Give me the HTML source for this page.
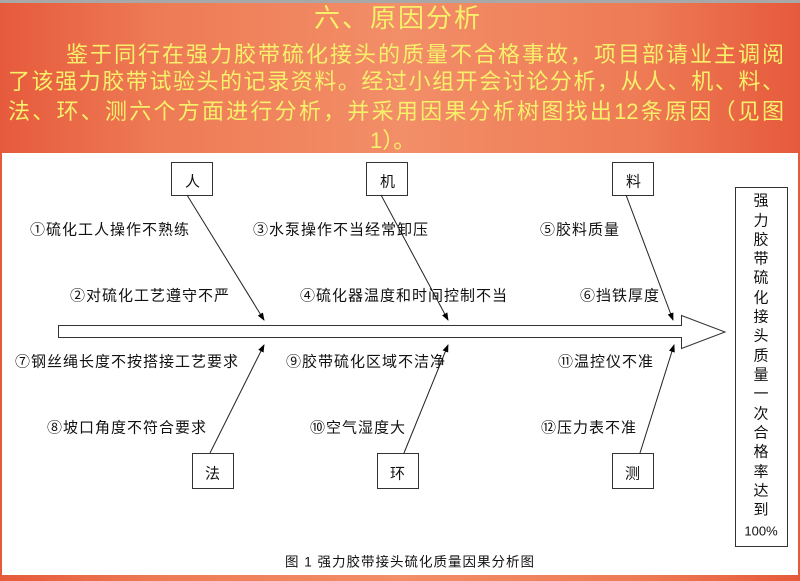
<!DOCTYPE html>
<html><head><meta charset="utf-8">
<style>
html,body{margin:0;padding:0}
body{width:800px;height:581px;position:relative;overflow:hidden;font-family:"Liberation Sans","Noto Sans CJK SC",sans-serif;
background:linear-gradient(90deg,#e65a3c 0%,#ee7b55 20%,#f28e68 50%,#ee7b55 80%,#e65a3c 100%);}
.top{position:absolute;left:0;top:0;width:800px;height:3px;background:#a8a8a8}
.t{position:absolute;color:#f7f06a;white-space:nowrap;font-size:22px;line-height:28px;overflow:hidden}
.j{text-align:justify;text-align-last:justify;white-space:normal;word-break:break-all;height:28px}
.white{position:absolute;left:2px;top:153px;width:796px;height:422px;background:#fff}
svg{position:absolute;left:0;top:0}
svg text{font-family:"Liberation Sans","Noto Sans CJK SC",sans-serif;fill:#111}
</style></head><body>
<div class="top"></div>
<div class="t" style="left:314px;top:4px;font-size:26px;letter-spacing:2px;">六、原因分析</div>
<div class="t j" style="left:66px;top:41px;width:718px;">鉴于同行在强力胶带硫化接头的质量不合格事故，项目部请业主调阅</div>
<div class="t j" style="left:8px;top:68px;width:776px;">了该强力胶带试验头的记录资料。经过小组开会讨论分析，从人、机、料、</div>
<div class="t j" style="left:8px;top:98px;width:776px;">法、环、测六个方面进行分析，并采用因果分析树图找出12条原因（见图</div>
<div class="t" style="left:370px;top:127px;">1）。</div>
<div class="white"></div>
<svg width="800" height="581" viewBox="0 0 800 581">
<defs><marker id="a" markerWidth="8" markerHeight="8" refX="7" refY="4" orient="auto" markerUnits="userSpaceOnUse"><path d="M0,1 L8,4 L0,7 Z" fill="#000"/></marker></defs>
<g fill="#fff" stroke="#333" stroke-width="1">
<rect x="171.5" y="162.5" width="41" height="33"/>
<rect x="366.5" y="162.5" width="41" height="33"/>
<rect x="612.5" y="162.5" width="41" height="33"/>
<rect x="192.5" y="453.5" width="41" height="35"/>
<rect x="377.5" y="453.5" width="41" height="35"/>
<rect x="612.5" y="453.5" width="41" height="35"/>
<rect x="735.5" y="187.5" width="52" height="359"/>
<path d="M58.5,325.5 L681.5,325.5 L681.5,315.5 L725,332 L681.5,348.5 L681.5,337.5 L58.5,337.5 Z"/>
</g>
<g stroke="#222" stroke-width="1" marker-end="url(#a)">
<line x1="187" y1="195" x2="264" y2="320"/>
<line x1="381" y1="195" x2="448" y2="320"/>
<line x1="626" y1="195" x2="673" y2="320"/>
<line x1="210" y1="453" x2="264" y2="345"/>
<line x1="404" y1="453" x2="448" y2="345"/>
<line x1="640" y1="453" x2="674" y2="345"/>
</g>
<g font-size="15" letter-spacing="1" dominant-baseline="central">
<text x="185" y="182">人</text><text x="380" y="182">机</text><text x="626" y="182">料</text>
<text x="205" y="474">法</text><text x="390" y="474">环</text><text x="625" y="474">测</text>
<text x="30" y="230">①硫化工人操作不熟练</text>
<text x="70" y="296">②对硫化工艺遵守不严</text>
<text x="253" y="230">③水泵操作不当经常卸压</text>
<text x="300" y="296">④硫化器温度和时间控制不当</text>
<text x="540" y="230">⑤胶料质量</text>
<text x="580" y="296">⑥挡铁厚度</text>
<text x="15" y="362">⑦钢丝绳长度不按搭接工艺要求</text>
<text x="286" y="362">⑨胶带硫化区域不洁净</text>
<text x="558" y="362">⑪温控仪不准</text>
<text x="47" y="428">⑧坡口角度不符合要求</text>
<text x="310" y="428">⑩空气湿度大</text>
<text x="541" y="428">⑫压力表不准</text>
</g>
<g font-size="15" text-anchor="middle" dominant-baseline="central">
<text x="761" y="201">强</text><text x="761" y="221">力</text><text x="761" y="240">胶</text><text x="761" y="259">带</text>
<text x="761" y="278">硫</text><text x="761" y="298">化</text><text x="761" y="317">接</text><text x="761" y="336">头</text>
<text x="761" y="356">质</text><text x="761" y="375">量</text><text x="761" y="394">一</text><text x="761" y="414">次</text>
<text x="761" y="433">合</text><text x="761" y="452">格</text><text x="761" y="472">率</text><text x="761" y="491">达</text>
<text x="761" y="510">到</text><text x="761" y="531" font-size="13">100%</text>
</g>
<text x="410" y="562" font-size="13.5" text-anchor="middle" dominant-baseline="central" letter-spacing="1">图 1 强力胶带接头硫化质量因果分析图</text>
</svg>
</body></html>
